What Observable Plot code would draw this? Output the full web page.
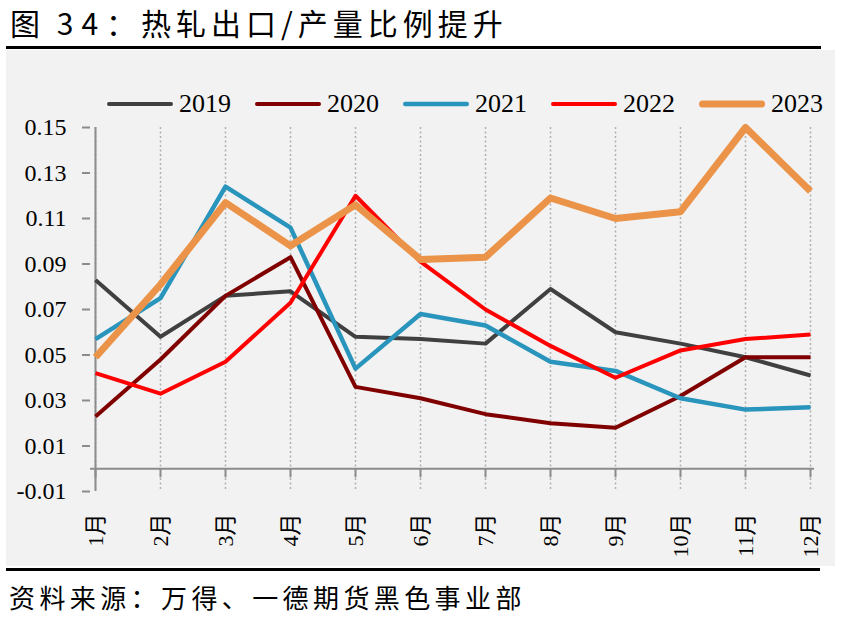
<!DOCTYPE html>
<html>
<head>
<meta charset="utf-8">
<script src="https://cdn.jsdelivr.net/npm/d3@7"></script>
<script src="https://cdn.jsdelivr.net/npm/@observablehq/plot@0.6"></script>
<style>
html, body { margin: 0; padding: 0; background: #fff; }
#page { position: relative; width: 844px; height: 628px; overflow: hidden; font-family: "Liberation Serif", "Noto Sans CJK SC", serif; }
#title { position: absolute; left: 10px; top: 2px; font-family: "Noto Sans CJK SC", sans-serif; font-size: 30px; line-height: 40px; letter-spacing: 5px; color: #000; white-space: nowrap; }
#title .num { letter-spacing: 8px; }
.rule { position: absolute; background: #000; }
#panel { position: absolute; left: 6px; top: 50px; width: 829px; height: 516px; background: #F2F2F2; }
#chart { position: absolute; left: 0; top: 50px; }
#legend { position: absolute; top: 88px; left: 106px; display: flex; align-items: center; height: 32px; white-space: nowrap; }
.item { display: flex; align-items: center; margin-right: 23px; }
.item span { margin-left: 5px; font-family: "Liberation Serif", serif; font-size: 26px; line-height: 32px; color: #000; }
#footer { position: absolute; left: 9px; top: 581px; font-family: "Noto Sans CJK SC", sans-serif; font-size: 26px; line-height: 32px; letter-spacing: 4.4px; color: #000; white-space: nowrap; }
</style>
</head>
<body>
<div id="page">
  <div id="title">图 <span class="num">34</span>：热轧出口/产量比例提升</div>
  <div class="rule" style="left:6px;top:46px;width:815px;height:3px;"></div>
  <div id="panel"></div>
  <div id="chart"></div>
  <div id="legend"></div>
  <div class="rule" style="left:6px;top:568px;width:814px;height:3px;"></div>
  <div id="footer">资料来源：万得、一德期货黑色事业部</div>
</div>
<script>
const months = ["1月","2月","3月","4月","5月","6月","7月","8月","9月","10月","11月","12月"];
const series = ["2019","2020","2021","2022","2023"];
const v2019 = [0.083,0.058,0.076,0.078,0.058,0.057,0.055,0.079,0.060,0.055,0.049,0.041];
const v2020 = [0.023,0.048,0.076,0.093,0.036,0.031,0.024,0.020,0.018,0.032,0.049,0.049];
const v2021 = [0.057,0.075,0.124,0.106,0.044,0.068,0.063,0.047,0.043,0.031,0.026,0.027];
const v2022 = [0.042,0.033,0.047,0.073,0.120,0.091,0.070,0.054,0.040,0.052,0.057,0.059];
const v2023 = [0.049,0.081,0.117,0.098,0.116,0.092,0.093,0.119,0.110,0.113,0.150,0.122];
const yTicks = [-0.01,0.01,0.03,0.05,0.07,0.09,0.11,0.13,0.15];
const colors = ["#404040","#800000","#2A95BC","#FF0000","#EB9449"];
const widths = [4,4,4.5,4,7];

const values = [v2019, v2020, v2021, v2022, v2023];
const rows = [];
series.forEach((s, i) => values[i].forEach((v, j) => rows.push({series: s, month: months[j], value: v})));

const axisGray = "#8c8c8c";
const serif = "'Liberation Serif', 'Noto Sans CJK SC', serif";
const lineMarks = series.map((s, i) =>
  Plot.line(rows.filter(r => r.series === s), {
    x: "month", y: "value", stroke: colors[i], strokeWidth: widths[i],
    strokeLinejoin: "round", strokeLinecap: "butt"
  })
);

const chart = Plot.plot({
  width: 844, height: 516,
  marginLeft: 90, marginRight: 30, marginTop: 77, marginBottom: 75,
  style: {background: "transparent", fontFamily: serif, overflow: "visible"},
  x: {type: "point", domain: months, padding: 0},
  y: {domain: [-0.01, 0.15]},
  marks: [
    Plot.ruleX(months, {stroke: "#b0b0b0", strokeWidth: 1.5, strokeDasharray: "2,2.5"}),
    Plot.ruleY([0], {stroke: axisGray, strokeWidth: 2}),
    Plot.ruleX(months, {y1: 0, y2: -0.004, stroke: axisGray, strokeWidth: 2}),
    Plot.ruleX([months[0]], {stroke: axisGray, strokeWidth: 2}),
    Plot.axisY({ticks: yTicks, tickFormat: d => d.toFixed(2), tickSize: 8, tickPadding: 16, fontSize: 24, fontFamily: serif, fontVariant: "normal", stroke: axisGray, strokeWidth: 2, fill: "#000", label: null}),
    Plot.axisX({tickSize: 0, tickPadding: 22, tickRotate: -90, fontSize: 22, fontFamily: serif, fontVariant: "normal", fill: "#000", label: null}),
    ...lineMarks
  ]
});
d3.select(chart).selectAll("text").style("font-family", serif).style("font-variant", "normal");
document.getElementById("chart").appendChild(chart);

const legend = document.getElementById("legend");
series.forEach((s, i) => {
  const item = document.createElement("div");
  item.className = "item";
  const w = widths[i];
  item.innerHTML = `<svg width="68" height="32"><line x1="${1 + w/2}" x2="${67 - w/2}" y1="16" y2="16" stroke="${colors[i]}" stroke-width="${w}" stroke-linecap="round"/></svg><span>${s}</span>`;
  legend.appendChild(item);
});
</script>
</body>
</html>
